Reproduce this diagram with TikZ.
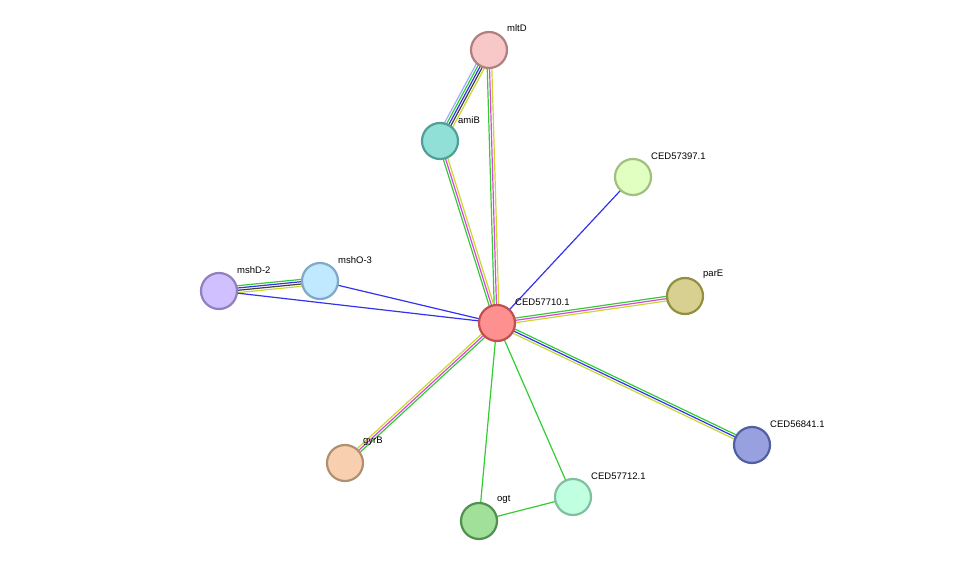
\documentclass[tikz,border=0pt]{standalone}
\usepackage{fontspec}
\setmainfont{Liberation Sans}
\usetikzlibrary{calc,backgrounds}
\definecolor{eg}{HTML}{33CC33}
\definecolor{eb}{HTML}{3333EE}
\definecolor{em}{HTML}{DD44DD}
\definecolor{ey}{HTML}{C8D830}
\definecolor{ek}{HTML}{404040}
\definecolor{el}{HTML}{A0A8FF}
\tikzset{prot/.style={circle,minimum size=36pt,inner sep=0pt,line width=2.2pt},
 lab/.style={font=\fontsize{9.5pt}{11pt}\selectfont,anchor=south west,inner sep=1pt}}
\newcommand\medge[4]{\foreach \c [count=\i] in {#4}{\pgfmathsetmacro\o{(\i-(#3+1)/2)*2.3}
 \draw[\c,line width=1.2pt] ($(#1.center)!\o pt!90:(#2.center)$) -- ($(#2.center)!\o pt!-90:(#1.center)$);}}
\begin{document}
\begin{tikzpicture}[x=1pt,y=-1pt]
\useasboundingbox (0,0) rectangle (975,567);
\node[prot,fill={rgb,255:red,255;green,144;blue,144},draw={rgb,255:red,192;green,80;blue,80}] (c) at (497,323) {};
\node[prot,fill={rgb,255:red,248;green,200;blue,200},draw={rgb,255:red,176;green,128;blue,128}] (mltD) at (489,50) {};
\node[prot,fill={rgb,255:red,144;green,224;blue,216},draw={rgb,255:red,80;green,160;blue,152}] (amiB) at (440,141) {};
\node[prot,fill={rgb,255:red,224;green,255;blue,192},draw={rgb,255:red,160;green,192;blue,128}] (c397) at (633,177) {};
\node[prot,fill={rgb,255:red,192;green,232;blue,255},draw={rgb,255:red,128;green,168;blue,200}] (mshO) at (320,281) {};
\node[prot,fill={rgb,255:red,208;green,192;blue,255},draw={rgb,255:red,144;green,128;blue,192}] (mshD) at (219,291) {};
\node[prot,fill={rgb,255:red,216;green,208;blue,144},draw={rgb,255:red,144;green,144;blue,64}] (parE) at (685,296) {};
\node[prot,fill={rgb,255:red,152;green,160;blue,224},draw={rgb,255:red,80;green,96;blue,160}] (c841) at (752,445) {};
\node[prot,fill={rgb,255:red,248;green,208;blue,176},draw={rgb,255:red,176;green,144;blue,112}] (gyrB) at (345,463) {};
\node[prot,fill={rgb,255:red,160;green,224;blue,152},draw={rgb,255:red,80;green,144;blue,80}] (ogt) at (479,521) {};
\node[prot,fill={rgb,255:red,192;green,255;blue,224},draw={rgb,255:red,128;green,192;blue,160}] (c712) at (573,497) {};
\node[lab] at (514,307) {CED57710.1};
\node[lab] at (506,33) {mltD};
\node[lab] at (457,125) {amiB};
\node[lab] at (650,161) {CED57397.1};
\node[lab] at (337,265) {mshO-3};
\node[lab] at (236,275) {mshD-2};
\node[lab] at (702,280) {parE};
\node[lab] at (769,429) {CED56841.1};
\node[lab] at (362,447) {gyrB};
\node[lab] at (496,505) {ogt};
\node[lab] at (590,481) {CED57712.1};
\begin{pgfonlayer}{background}
\medge{mltD}{amiB}{5}{el,eg,eb,ek,ey}
\medge{mltD}{c}{3}{eg,em,ey}
\medge{amiB}{c}{3}{eg,em,ey}
\medge{c397}{c}{1}{eb}
\medge{mshD}{mshO}{4}{ey,ek,eb,eg}
\medge{mshD}{c}{1}{eb}
\medge{mshO}{c}{1}{eb}
\medge{parE}{c}{3}{eg,em,ey}
\medge{c841}{c}{3}{eg,eb,ey}
\medge{c}{gyrB}{3}{ey,em,eg}
\medge{ogt}{c}{1}{eg}
\medge{c712}{c}{1}{eg}
\medge{ogt}{c712}{1}{eg}
\end{pgfonlayer}
\end{tikzpicture}
\end{document}
